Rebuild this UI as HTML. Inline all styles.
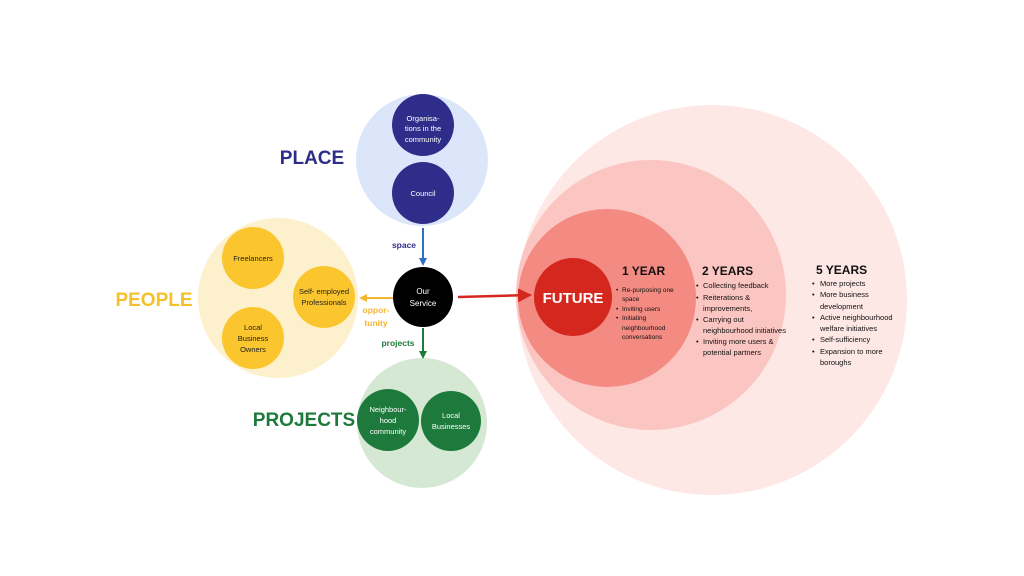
<!DOCTYPE html>
<html><head><meta charset="utf-8"><style>
html,body{margin:0;padding:0;background:#fff}
svg{display:block;font-family:"Liberation Sans",sans-serif}
</style></head><body>
<svg width="1024" height="576" viewBox="0 0 1024 576" xmlns="http://www.w3.org/2000/svg">
<defs>
<marker id="ab" markerWidth="8" markerHeight="8" refX="6" refY="4" orient="auto" markerUnits="userSpaceOnUse"><path d="M0,0 L8,4 L0,8 z" fill="#2f6fc4"/></marker>
<marker id="ao" markerWidth="8" markerHeight="8" refX="6" refY="4" orient="auto" markerUnits="userSpaceOnUse"><path d="M0,0 L8,4 L0,8 z" fill="#f4b531"/></marker>
<marker id="ag" markerWidth="8" markerHeight="8" refX="6" refY="4" orient="auto" markerUnits="userSpaceOnUse"><path d="M0,0 L8,4 L0,8 z" fill="#1e7a3c"/></marker>
<marker id="ar" markerWidth="14" markerHeight="14" refX="12" refY="7" orient="auto" markerUnits="userSpaceOnUse"><path d="M0,0 L14,7 L0,14 z" fill="#d4281e"/></marker>
</defs>
<!-- future circles -->
<circle cx="712" cy="300" r="195" fill="#fde8e6"/>
<circle cx="651" cy="295" r="135" fill="#fbc6c2"/>
<circle cx="607" cy="298" r="89" fill="#f38b82"/>
<circle cx="573" cy="297" r="39" fill="#d4281e"/>
<text x="573" y="303" font-size="15" font-weight="bold" fill="#fff" text-anchor="middle">FUTURE</text>

<!-- place -->
<circle cx="422" cy="160" r="66" fill="#dbe6fb"/>
<circle cx="423" cy="125" r="31" fill="#2e2e8a"/>
<circle cx="423" cy="193" r="31" fill="#2e2e8a"/>
<g fill="#fff" font-size="7.5" text-anchor="middle">
<text x="423" y="121">Organisa-</text><text x="423" y="131">tions in the</text><text x="423" y="142">community</text>
<text x="423" y="196">Council</text>
</g>
<text x="312" y="164" font-size="19" font-weight="bold" fill="#2e2e8a" text-anchor="middle">PLACE</text>

<!-- people -->
<circle cx="278" cy="298" r="80" fill="#fdf0cc"/>
<circle cx="253" cy="258" r="31" fill="#fbc62d"/>
<circle cx="324" cy="297" r="31" fill="#fbc62d"/>
<circle cx="253" cy="338" r="31" fill="#fbc62d"/>
<g fill="#222" font-size="7.5" text-anchor="middle">
<text x="253" y="261">Freelancers</text>
<text x="324" y="294">Self- employed</text><text x="324" y="305">Professionals</text>
<text x="253" y="330">Local</text><text x="253" y="341">Business</text><text x="253" y="352">Owners</text>
</g>
<text x="154" y="306" font-size="19" font-weight="bold" fill="#f5c12b" text-anchor="middle">PEOPLE</text>

<!-- projects -->
<circle cx="422" cy="423" r="65" fill="#d5e8d4"/>
<circle cx="388" cy="420" r="31" fill="#1e7a3c"/>
<circle cx="451" cy="421" r="30" fill="#1e7a3c"/>
<g fill="#fff" font-size="7.5" text-anchor="middle">
<text x="388" y="412">Neighbour-</text><text x="388" y="423">hood</text><text x="388" y="434">community</text>
<text x="451" y="418">Local</text><text x="451" y="429">Businesses</text>
</g>
<text x="304" y="426" font-size="19" font-weight="bold" fill="#1e7a3c" text-anchor="middle">PROJECTS</text>

<!-- our service -->
<circle cx="423" cy="297" r="30" fill="#000"/>
<g fill="#fff" font-size="8" text-anchor="middle"><text x="423" y="294">Our</text><text x="423" y="306">Service</text></g>

<!-- arrows -->
<line x1="423" y1="228" x2="423" y2="264" stroke="#2f6fc4" stroke-width="2" marker-end="url(#ab)"/>
<text x="404" y="248" font-size="8.5" font-weight="bold" fill="#2e2e8a" text-anchor="middle">space</text>
<line x1="393" y1="298" x2="361" y2="298" stroke="#f4b531" stroke-width="2" marker-end="url(#ao)"/>
<text x="376" y="313" font-size="8.5" font-weight="bold" fill="#f4b531" text-anchor="middle">oppor-</text>
<text x="376" y="326" font-size="8.5" font-weight="bold" fill="#f4b531" text-anchor="middle">tunity</text>
<line x1="423" y1="328" x2="423" y2="357" stroke="#1e7a3c" stroke-width="2" marker-end="url(#ag)"/>
<text x="398" y="346" font-size="8.5" font-weight="bold" fill="#1e7a3c" text-anchor="middle">projects</text>
<line x1="458" y1="297" x2="530" y2="295" stroke="#d4281e" stroke-width="2.5" marker-end="url(#ar)"/>

<!-- timeline text -->
<g fill="#111">
<text x="622" y="275" font-size="12" font-weight="bold">1 YEAR</text>
<g font-size="6.5">
<text x="616" y="292">•</text><text x="622" y="292">Re-purposing one</text>
<text x="622" y="301">space</text>
<text x="616" y="311">•</text><text x="622" y="311">Inviting users</text>
<text x="616" y="320">•</text><text x="622" y="320">Initiating</text>
<text x="622" y="330">neighbourhood</text>
<text x="622" y="339">conversations</text>
</g>
<text x="702" y="275" font-size="12" font-weight="bold">2 YEARS</text>
<g font-size="7.5">
<text x="696" y="288">•</text><text x="703" y="288">Collecting feedback</text>
<text x="696" y="300">•</text><text x="703" y="300">Reiterations &amp;</text>
<text x="703" y="311">improvements,</text>
<text x="696" y="322">•</text><text x="703" y="322">Carrying out</text>
<text x="703" y="333">neighbourhood initiatives</text>
<text x="696" y="344">•</text><text x="703" y="344">Inviting more users &amp;</text>
<text x="703" y="355">potential partners</text>
</g>
<text x="816" y="274" font-size="12" font-weight="bold">5 YEARS</text>
<g font-size="7.5">
<text x="812" y="286">•</text><text x="820" y="286">More projects</text>
<text x="812" y="297">•</text><text x="820" y="297">More business</text>
<text x="820" y="309">development</text>
<text x="812" y="320">•</text><text x="820" y="320">Active neighbourhood</text>
<text x="820" y="331">welfare initiatives</text>
<text x="812" y="342">•</text><text x="820" y="342">Self-sufficiency</text>
<text x="812" y="354">•</text><text x="820" y="354">Expansion to more</text>
<text x="820" y="365">boroughs</text>
</g>
</g>
</svg>
</body></html>
